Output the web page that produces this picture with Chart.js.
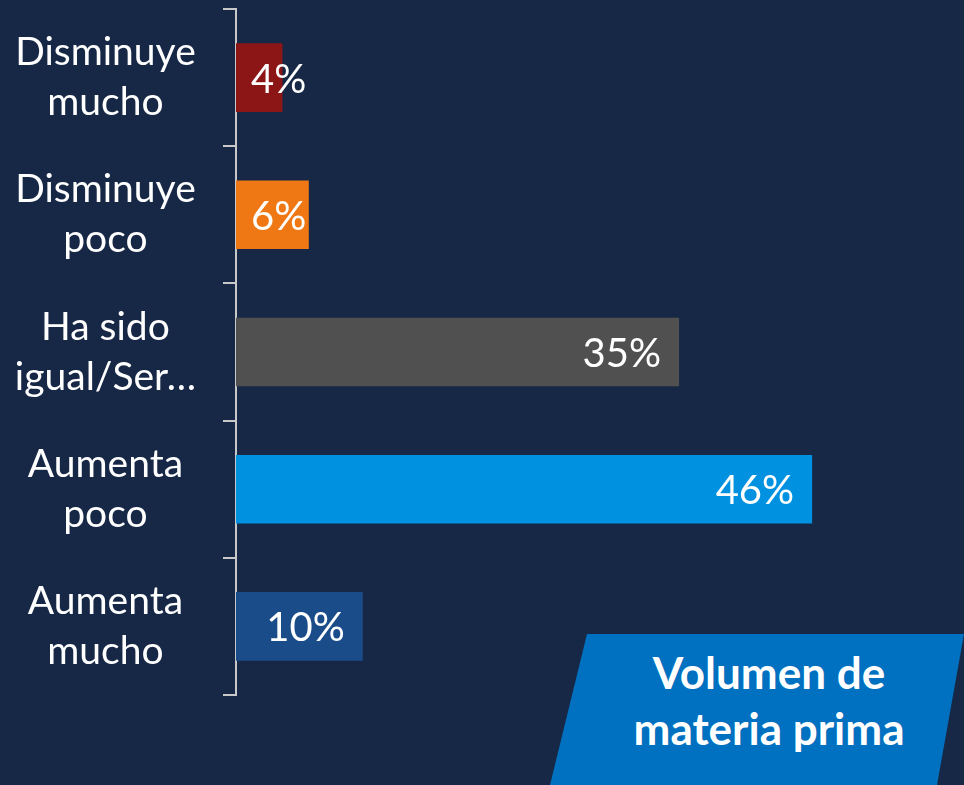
<!DOCTYPE html>
<html>
<head>
<meta charset="utf-8">
<script src="https://cdn.jsdelivr.net/npm/chart.js@4"></script>
<style>
  html, body { margin: 0; padding: 0; background: #172846; }
  #wrap { position: relative; width: 964px; height: 785px; overflow: hidden; }
  #badge {
    position: absolute; left: 550px; top: 634px; width: 414px; height: 151px;
    background: #0070C0;
    clip-path: polygon(37px 0, 414px 0, 414px 0, 387px 151px, 0 151px);
    color: #fff; font-family: Lato, "Open Sans", sans-serif; font-weight: bold;
    font-size: 44px; line-height: 56px; text-align: center;
    box-sizing: border-box; padding: 10px 0 0 24px;
  }
</style>
</head>
<body>
<div id="wrap">
  <canvas id="chart" width="964" height="785"></canvas>
  <div id="badge">Volumen de<br>materia prima</div>
</div>
<script>
// categories (two lines each) and shares
const categories = [
  ['Disminuye', 'mucho'],
  ['Disminuye', 'poco'],
  ['Ha sido', 'igual/Ser…'],
  ['Aumenta', 'poco'],
  ['Aumenta', 'mucho']
];
const shares = [3.7, 5.8, 35.3, 45.9, 10.1];
const barColors = ['#8C1515', '#F07814', '#505050', '#0091E1', '#1B4C8A'];

// value labels drawn inside the bar end, pushed right when the bar is too short
const valueLabels = {
  id: 'valueLabels',
  afterDatasetsDraw(chart) {
    const ctx = chart.ctx;
    const meta = chart.getDatasetMeta(0);
    ctx.save();
    ctx.font = '40px Lato, "Open Sans", sans-serif';
    ctx.fillStyle = '#ffffff';
    ctx.textAlign = 'right';
    ctx.textBaseline = 'middle';
    meta.data.forEach((bar, i) => {
      const txt = Math.round(shares[i]) + '%';
      const w = ctx.measureText(txt).width;
      const right = Math.max(bar.x - 18, bar.base + 15 + w);
      ctx.fillText(txt, right, bar.y + 2);
    });
    ctx.restore();
  }
};

new Chart(document.getElementById('chart'), {
  type: 'bar',
  data: {
    labels: categories,
    datasets: [{
      data: shares,
      backgroundColor: barColors,
      barPercentage: 1,
      categoryPercentage: 0.5
    }]
  },
  options: {
    indexAxis: 'y',
    responsive: false,
    animation: false,
    layout: { padding: { top: 9, bottom: 90, left: 0, right: 0 } },
    plugins: { legend: { display: false }, tooltip: { enabled: false } },
    scales: {
      x: { display: false, min: 0, max: 58 },
      y: {
        grid: { drawOnChartArea: false, drawTicks: true, tickLength: 13, color: '#C8C8C8', lineWidth: 2, offset: true },
        border: { color: '#C8C8C8', width: 2 },
        ticks: {
          color: '#ffffff',
          font: { family: 'Lato, "Open Sans", sans-serif', size: 39, lineHeight: '50px' },
          crossAlign: 'center',
          padding: 27
        },
        afterFit(scale) {
          scale.width = 236;
          scale.paddingTop = 0;
          scale.paddingBottom = 0;
        }
      }
    }
  },
  plugins: [valueLabels]
});
</script>
</body>
</html>
